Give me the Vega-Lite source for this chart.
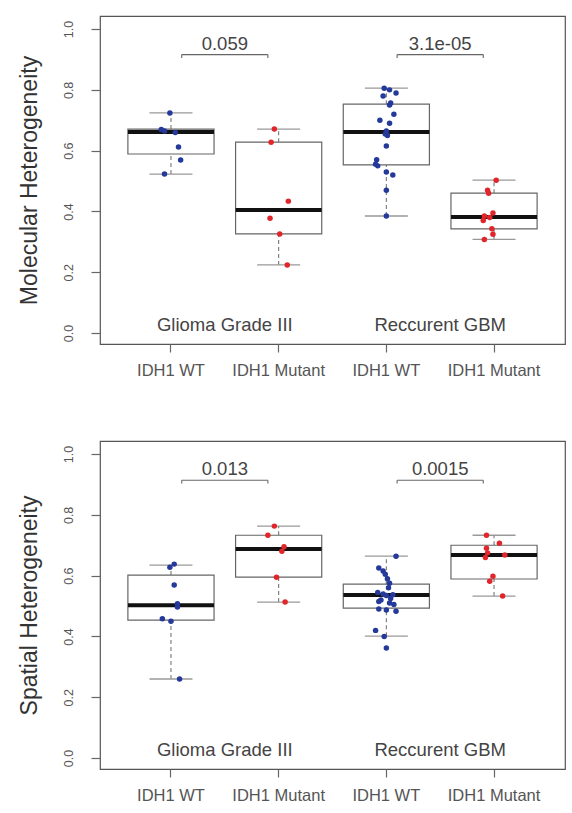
{
 "$schema": "https://vega.github.io/schema/vega-lite/v6.json",
 "padding": {"left": 17, "top": 15, "right": 5, "bottom": 5},
 "background": "white",
 "spacing": 97,
 "bounds": "flush",
 "config": {
  "font": "Liberation Sans",
  "view": {"stroke": "#555", "strokeWidth": 1.2},
  "axis": {"domain": false, "grid": false, "labelColor": "#555", "titleColor": "#333", "tickColor": "#666", "titleFontWeight": "normal", "tickWidth": 1.2}
 },
 "datasets": {
  "pts": [
   {"panel":"M","group":"G_WT","value":0.724,"jitter":-0.01},
   {"panel":"M","group":"G_WT","value":0.670,"jitter":-0.09},
   {"panel":"M","group":"G_WT","value":0.665,"jitter":-0.06},
   {"panel":"M","group":"G_WT","value":0.660,"jitter":0.04},
   {"panel":"M","group":"G_WT","value":0.612,"jitter":0.07},
   {"panel":"M","group":"G_WT","value":0.569,"jitter":0.09},
   {"panel":"M","group":"G_WT","value":0.523,"jitter":-0.06},
   {"panel":"M","group":"G_MUT","value":0.671,"jitter":-0.04},
   {"panel":"M","group":"G_MUT","value":0.628,"jitter":-0.07},
   {"panel":"M","group":"G_MUT","value":0.434,"jitter":0.09},
   {"panel":"M","group":"G_MUT","value":0.378,"jitter":-0.08},
   {"panel":"M","group":"G_MUT","value":0.326,"jitter":0.01},
   {"panel":"M","group":"G_MUT","value":0.224,"jitter":0.08},
   {"panel":"M","group":"R_WT","value":0.385,"jitter":0.0},
   {"panel":"M","group":"R_WT","value":0.47,"jitter":0.0},
   {"panel":"M","group":"R_WT","value":0.52,"jitter":0.06},
   {"panel":"M","group":"R_WT","value":0.53,"jitter":0.0},
   {"panel":"M","group":"R_WT","value":0.55,"jitter":-0.08},
   {"panel":"M","group":"R_WT","value":0.555,"jitter":-0.1},
   {"panel":"M","group":"R_WT","value":0.57,"jitter":-0.09},
   {"panel":"M","group":"R_WT","value":0.615,"jitter":0.0},
   {"panel":"M","group":"R_WT","value":0.65,"jitter":0.01},
   {"panel":"M","group":"R_WT","value":0.655,"jitter":-0.01},
   {"panel":"M","group":"R_WT","value":0.665,"jitter":0.0},
   {"panel":"M","group":"R_WT","value":0.69,"jitter":0.03},
   {"panel":"M","group":"R_WT","value":0.70,"jitter":-0.06},
   {"panel":"M","group":"R_WT","value":0.72,"jitter":0.07},
   {"panel":"M","group":"R_WT","value":0.75,"jitter":0.03},
   {"panel":"M","group":"R_WT","value":0.757,"jitter":0.04},
   {"panel":"M","group":"R_WT","value":0.78,"jitter":-0.03},
   {"panel":"M","group":"R_WT","value":0.79,"jitter":0.09},
   {"panel":"M","group":"R_WT","value":0.80,"jitter":0.03},
   {"panel":"M","group":"R_WT","value":0.805,"jitter":-0.02},
   {"panel":"M","group":"R_MUT","value":0.503,"jitter":0.02},
   {"panel":"M","group":"R_MUT","value":0.47,"jitter":-0.06},
   {"panel":"M","group":"R_MUT","value":0.46,"jitter":-0.05},
   {"panel":"M","group":"R_MUT","value":0.395,"jitter":-0.01},
   {"panel":"M","group":"R_MUT","value":0.385,"jitter":-0.09},
   {"panel":"M","group":"R_MUT","value":0.38,"jitter":-0.04},
   {"panel":"M","group":"R_MUT","value":0.37,"jitter":-0.1},
   {"panel":"M","group":"R_MUT","value":0.343,"jitter":-0.02},
   {"panel":"M","group":"R_MUT","value":0.325,"jitter":-0.01},
   {"panel":"M","group":"R_MUT","value":0.308,"jitter":-0.09},
   {"panel":"S","group":"G_WT","value":0.638,"jitter":0.03},
   {"panel":"S","group":"G_WT","value":0.628,"jitter":-0.01},
   {"panel":"S","group":"G_WT","value":0.569,"jitter":0.03},
   {"panel":"S","group":"G_WT","value":0.508,"jitter":0.06},
   {"panel":"S","group":"G_WT","value":0.497,"jitter":0.06},
   {"panel":"S","group":"G_WT","value":0.458,"jitter":-0.08},
   {"panel":"S","group":"G_WT","value":0.45,"jitter":0.0},
   {"panel":"S","group":"G_WT","value":0.26,"jitter":0.08},
   {"panel":"S","group":"G_MUT","value":0.763,"jitter":-0.04},
   {"panel":"S","group":"G_MUT","value":0.733,"jitter":-0.1},
   {"panel":"S","group":"G_MUT","value":0.695,"jitter":0.05},
   {"panel":"S","group":"G_MUT","value":0.68,"jitter":0.03},
   {"panel":"S","group":"G_MUT","value":0.595,"jitter":-0.02},
   {"panel":"S","group":"G_MUT","value":0.513,"jitter":0.06},
   {"panel":"S","group":"R_WT","value":0.664,"jitter":0.09},
   {"panel":"S","group":"R_WT","value":0.625,"jitter":-0.07},
   {"panel":"S","group":"R_WT","value":0.615,"jitter":-0.03},
   {"panel":"S","group":"R_WT","value":0.605,"jitter":-0.01},
   {"panel":"S","group":"R_WT","value":0.59,"jitter":0.01},
   {"panel":"S","group":"R_WT","value":0.575,"jitter":0.03},
   {"panel":"S","group":"R_WT","value":0.56,"jitter":0.02},
   {"panel":"S","group":"R_WT","value":0.545,"jitter":-0.08},
   {"panel":"S","group":"R_WT","value":0.54,"jitter":-0.03},
   {"panel":"S","group":"R_WT","value":0.537,"jitter":0.06},
   {"panel":"S","group":"R_WT","value":0.535,"jitter":0.0},
   {"panel":"S","group":"R_WT","value":0.525,"jitter":0.04},
   {"panel":"S","group":"R_WT","value":0.52,"jitter":-0.05},
   {"panel":"S","group":"R_WT","value":0.515,"jitter":-0.07},
   {"panel":"S","group":"R_WT","value":0.51,"jitter":0.03},
   {"panel":"S","group":"R_WT","value":0.505,"jitter":0.07},
   {"panel":"S","group":"R_WT","value":0.49,"jitter":-0.07},
   {"panel":"S","group":"R_WT","value":0.487,"jitter":0.0},
   {"panel":"S","group":"R_WT","value":0.483,"jitter":0.09},
   {"panel":"S","group":"R_WT","value":0.42,"jitter":-0.1},
   {"panel":"S","group":"R_WT","value":0.40,"jitter":-0.02},
   {"panel":"S","group":"R_WT","value":0.362,"jitter":0.0},
   {"panel":"S","group":"R_MUT","value":0.733,"jitter":-0.07},
   {"panel":"S","group":"R_MUT","value":0.707,"jitter":0.05},
   {"panel":"S","group":"R_MUT","value":0.69,"jitter":-0.07},
   {"panel":"S","group":"R_MUT","value":0.675,"jitter":-0.06},
   {"panel":"S","group":"R_MUT","value":0.668,"jitter":0.1},
   {"panel":"S","group":"R_MUT","value":0.66,"jitter":-0.08},
   {"panel":"S","group":"R_MUT","value":0.598,"jitter":-0.01},
   {"panel":"S","group":"R_MUT","value":0.582,"jitter":-0.04},
   {"panel":"S","group":"R_MUT","value":0.533,"jitter":0.08}
  ],
  "boxes": [
   {"panel":"M","group":"G_WT","lo":0.523,"q1":0.589,"med":0.661,"q3":0.671,"hi":0.724},
   {"panel":"M","group":"G_MUT","lo":0.224,"q1":0.326,"med":0.405,"q3":0.628,"hi":0.671},
   {"panel":"M","group":"R_WT","lo":0.385,"q1":0.553,"med":0.661,"q3":0.753,"hi":0.806},
   {"panel":"M","group":"R_MUT","lo":0.308,"q1":0.343,"med":0.382,"q3":0.46,"hi":0.503},
   {"panel":"S","group":"G_WT","lo":0.26,"q1":0.454,"med":0.503,"q3":0.602,"hi":0.635},
   {"panel":"S","group":"G_MUT","lo":0.513,"q1":0.595,"med":0.688,"q3":0.733,"hi":0.763},
   {"panel":"S","group":"R_WT","lo":0.401,"q1":0.493,"med":0.536,"q3":0.572,"hi":0.664},
   {"panel":"S","group":"R_MUT","lo":0.533,"q1":0.589,"med":0.668,"q3":0.70,"hi":0.733}
  ],
  "pvals": [
   {"panel":"M","left":"G_WT","right":"G_MUT","label":"0.059"},
   {"panel":"M","left":"R_WT","right":"R_MUT","label":"3.1e-05"},
   {"panel":"S","left":"G_WT","right":"G_MUT","label":"0.013"},
   {"panel":"S","left":"R_WT","right":"R_MUT","label":"0.0015"}
  ],
  "strips": [
   {"panel":"M","group":"G_WT","label":"Glioma Grade III"},
   {"panel":"M","group":"R_WT","label":"Reccurent GBM"},
   {"panel":"S","group":"G_WT","label":"Glioma Grade III"},
   {"panel":"S","group":"R_WT","label":"Reccurent GBM"}
  ]
 },
 "vconcat": [
  {
   "width": 465, "height": 328,
   "layer": [
    {"data": {"name": "boxes"}, "transform": [{"filter": "datum.panel === 'M'"}],
     "mark": {"type": "rule", "color": "#777", "strokeDash": [4, 3], "strokeWidth": 1.1},
     "encoding": {
      "x": {"field": "group", "type": "nominal", "scale": {"type": "band", "domain": ["G_WT","G_MUT","R_WT","R_MUT"], "paddingInner": 0, "paddingOuter": 0.159},
            "axis": {"title": null, "labelExpr": "indexof(datum.value, 'WT') >= 0 ? 'IDH1 WT' : 'IDH1 Mutant'", "labelAngle": 0, "tickSize": 8, "labelPadding": 10, "labelFontSize": 16.5}},
      "y": {"field": "q3", "type": "quantitative", "scale": {"domain": [-0.036, 1.043], "nice": false, "zero": false},
            "axis": {"title": "Molecular Heterogeneity", "values": [0, 0.2, 0.4, 0.6, 0.8, 1], "format": ".1f", "labelAngle": 270, "labelAlign": "center", "labelBaseline": "bottom", "tickSize": 9, "labelPadding": 16, "titlePadding": 21, "labelFontSize": 12.5, "titleFontSize": 23}},
      "y2": {"field": "hi"}
     }},
    {"data": {"name": "boxes"}, "transform": [{"filter": "datum.panel === 'M'"}],
     "mark": {"type": "rule", "color": "#777", "strokeDash": [4, 3], "strokeWidth": 1.1},
     "encoding": {"x": {"field": "group", "type": "nominal"}, "y": {"field": "lo", "type": "quantitative"}, "y2": {"field": "q1"}}},
    {"data": {"name": "boxes"}, "transform": [{"filter": "datum.panel === 'M'"}],
     "mark": {"type": "tick", "color": "#999", "size": 43, "thickness": 1.3, "opacity": 1},
     "encoding": {"x": {"field": "group", "type": "nominal"}, "y": {"field": "hi", "type": "quantitative"}}},
    {"data": {"name": "boxes"}, "transform": [{"filter": "datum.panel === 'M'"}],
     "mark": {"type": "tick", "color": "#999", "size": 43, "thickness": 1.3, "opacity": 1},
     "encoding": {"x": {"field": "group", "type": "nominal"}, "y": {"field": "lo", "type": "quantitative"}}},
    {"data": {"name": "boxes"}, "transform": [{"filter": "datum.panel === 'M'"}],
     "mark": {"type": "rect", "fill": "white", "stroke": "#666", "strokeWidth": 1.2},
     "encoding": {"x": {"field": "group", "type": "nominal", "bandPosition": 0.1}, "x2": {"field": "group", "bandPosition": 0.9}, "y": {"field": "q1", "type": "quantitative"}, "y2": {"field": "q3"}}},
    {"data": {"name": "boxes"}, "transform": [{"filter": "datum.panel === 'M'"}],
     "mark": {"type": "tick", "color": "#111", "size": 86, "thickness": 4, "opacity": 1},
     "encoding": {"x": {"field": "group", "type": "nominal"}, "y": {"field": "med", "type": "quantitative"}}},
    {"data": {"name": "pts"}, "transform": [{"filter": "datum.panel === 'M'"}],
     "mark": {"type": "circle", "size": 30, "opacity": 1},
     "encoding": {"x": {"field": "group", "type": "nominal"},
      "xOffset": {"field": "jitter", "type": "quantitative", "scale": {"domain": [-0.5, 0.5]}},
      "y": {"field": "value", "type": "quantitative"},
      "color": {"field": "group", "type": "nominal", "scale": {"domain": ["G_WT","G_MUT","R_WT","R_MUT"], "range": ["#24399a","#e0262b","#24399a","#e0262b"]}, "legend": null}}},
    {"mark": {"type": "rule", "color": "#555", "strokeWidth": 1.2},
     "encoding": {"y": {"datum": 0.105, "type": "quantitative"}}},
    {"mark": {"type": "rule", "color": "#555", "strokeWidth": 1.2},
     "encoding": {"x": {"datum": "G_MUT", "type": "nominal", "bandPosition": 1}}},
    {"data": {"name": "pvals"}, "transform": [{"filter": "datum.panel === 'M'"}],
     "mark": {"type": "rule", "color": "#666", "strokeWidth": 1.1},
     "encoding": {"x": {"field": "left", "type": "nominal", "bandPosition": 0.6}, "x2": {"field": "right", "bandPosition": 0.4}, "y": {"datum": 0.916, "type": "quantitative"}}},
    {"data": {"name": "pvals"}, "transform": [{"filter": "datum.panel === 'M'"}],
     "mark": {"type": "rule", "color": "#666", "strokeWidth": 1.1},
     "encoding": {"x": {"field": "left", "type": "nominal", "bandPosition": 0.6}, "y": {"datum": 0.916, "type": "quantitative"}, "y2": {"datum": 0.905}}},
    {"data": {"name": "pvals"}, "transform": [{"filter": "datum.panel === 'M'"}],
     "mark": {"type": "rule", "color": "#666", "strokeWidth": 1.1},
     "encoding": {"x": {"field": "right", "type": "nominal", "bandPosition": 0.4}, "y": {"datum": 0.916, "type": "quantitative"}, "y2": {"datum": 0.905}}},
    {"data": {"name": "pvals"}, "transform": [{"filter": "datum.panel === 'M'"}],
     "mark": {"type": "text", "fontSize": 18.5, "color": "#444", "baseline": "middle"},
     "encoding": {"x": {"field": "left", "type": "nominal", "bandPosition": 1}, "y": {"datum": 0.952, "type": "quantitative"}, "text": {"field": "label"}}},
    {"data": {"name": "strips"}, "transform": [{"filter": "datum.panel === 'M'"}],
     "mark": {"type": "text", "fontSize": 18.5, "color": "#444", "baseline": "middle"},
     "encoding": {"x": {"field": "group", "type": "nominal", "bandPosition": 1}, "y": {"datum": 0.025, "type": "quantitative"}, "text": {"field": "label"}}}
   ]
  },
  {
   "width": 465, "height": 328,
   "layer": [
    {"data": {"name": "boxes"}, "transform": [{"filter": "datum.panel === 'S'"}],
     "mark": {"type": "rule", "color": "#777", "strokeDash": [4, 3], "strokeWidth": 1.1},
     "encoding": {
      "x": {"field": "group", "type": "nominal", "scale": {"type": "band", "domain": ["G_WT","G_MUT","R_WT","R_MUT"], "paddingInner": 0, "paddingOuter": 0.159},
            "axis": {"title": null, "labelExpr": "indexof(datum.value, 'WT') >= 0 ? 'IDH1 WT' : 'IDH1 Mutant'", "labelAngle": 0, "tickSize": 8, "labelPadding": 10, "labelFontSize": 16.5}},
      "y": {"field": "q3", "type": "quantitative", "scale": {"domain": [-0.036, 1.043], "nice": false, "zero": false},
            "axis": {"title": "Spatial Heterogeneity", "values": [0, 0.2, 0.4, 0.6, 0.8, 1], "format": ".1f", "labelAngle": 270, "labelAlign": "center", "labelBaseline": "bottom", "tickSize": 9, "labelPadding": 16, "titlePadding": 21, "labelFontSize": 12.5, "titleFontSize": 23}},
      "y2": {"field": "hi"}
     }},
    {"data": {"name": "boxes"}, "transform": [{"filter": "datum.panel === 'S'"}],
     "mark": {"type": "rule", "color": "#777", "strokeDash": [4, 3], "strokeWidth": 1.1},
     "encoding": {"x": {"field": "group", "type": "nominal"}, "y": {"field": "lo", "type": "quantitative"}, "y2": {"field": "q1"}}},
    {"data": {"name": "boxes"}, "transform": [{"filter": "datum.panel === 'S'"}],
     "mark": {"type": "tick", "color": "#999", "size": 43, "thickness": 1.3, "opacity": 1},
     "encoding": {"x": {"field": "group", "type": "nominal"}, "y": {"field": "hi", "type": "quantitative"}}},
    {"data": {"name": "boxes"}, "transform": [{"filter": "datum.panel === 'S'"}],
     "mark": {"type": "tick", "color": "#999", "size": 43, "thickness": 1.3, "opacity": 1},
     "encoding": {"x": {"field": "group", "type": "nominal"}, "y": {"field": "lo", "type": "quantitative"}}},
    {"data": {"name": "boxes"}, "transform": [{"filter": "datum.panel === 'S'"}],
     "mark": {"type": "rect", "fill": "white", "stroke": "#666", "strokeWidth": 1.2},
     "encoding": {"x": {"field": "group", "type": "nominal", "bandPosition": 0.1}, "x2": {"field": "group", "bandPosition": 0.9}, "y": {"field": "q1", "type": "quantitative"}, "y2": {"field": "q3"}}},
    {"data": {"name": "boxes"}, "transform": [{"filter": "datum.panel === 'S'"}],
     "mark": {"type": "tick", "color": "#111", "size": 86, "thickness": 4, "opacity": 1},
     "encoding": {"x": {"field": "group", "type": "nominal"}, "y": {"field": "med", "type": "quantitative"}}},
    {"data": {"name": "pts"}, "transform": [{"filter": "datum.panel === 'S'"}],
     "mark": {"type": "circle", "size": 30, "opacity": 1},
     "encoding": {"x": {"field": "group", "type": "nominal"},
      "xOffset": {"field": "jitter", "type": "quantitative", "scale": {"domain": [-0.5, 0.5]}},
      "y": {"field": "value", "type": "quantitative"},
      "color": {"field": "group", "type": "nominal", "scale": {"domain": ["G_WT","G_MUT","R_WT","R_MUT"], "range": ["#24399a","#e0262b","#24399a","#e0262b"]}, "legend": null}}},
    {"mark": {"type": "rule", "color": "#555", "strokeWidth": 1.2},
     "encoding": {"y": {"datum": 0.105, "type": "quantitative"}}},
    {"mark": {"type": "rule", "color": "#555", "strokeWidth": 1.2},
     "encoding": {"x": {"datum": "G_MUT", "type": "nominal", "bandPosition": 1}}},
    {"data": {"name": "pvals"}, "transform": [{"filter": "datum.panel === 'S'"}],
     "mark": {"type": "rule", "color": "#666", "strokeWidth": 1.1},
     "encoding": {"x": {"field": "left", "type": "nominal", "bandPosition": 0.6}, "x2": {"field": "right", "bandPosition": 0.4}, "y": {"datum": 0.914, "type": "quantitative"}}},
    {"data": {"name": "pvals"}, "transform": [{"filter": "datum.panel === 'S'"}],
     "mark": {"type": "rule", "color": "#666", "strokeWidth": 1.1},
     "encoding": {"x": {"field": "left", "type": "nominal", "bandPosition": 0.6}, "y": {"datum": 0.914, "type": "quantitative"}, "y2": {"datum": 0.903}}},
    {"data": {"name": "pvals"}, "transform": [{"filter": "datum.panel === 'S'"}],
     "mark": {"type": "rule", "color": "#666", "strokeWidth": 1.1},
     "encoding": {"x": {"field": "right", "type": "nominal", "bandPosition": 0.4}, "y": {"datum": 0.914, "type": "quantitative"}, "y2": {"datum": 0.903}}},
    {"data": {"name": "pvals"}, "transform": [{"filter": "datum.panel === 'S'"}],
     "mark": {"type": "text", "fontSize": 18.5, "color": "#444", "baseline": "middle"},
     "encoding": {"x": {"field": "left", "type": "nominal", "bandPosition": 1}, "y": {"datum": 0.952, "type": "quantitative"}, "text": {"field": "label"}}},
    {"data": {"name": "strips"}, "transform": [{"filter": "datum.panel === 'S'"}],
     "mark": {"type": "text", "fontSize": 18.5, "color": "#444", "baseline": "middle"},
     "encoding": {"x": {"field": "group", "type": "nominal", "bandPosition": 1}, "y": {"datum": 0.025, "type": "quantitative"}, "text": {"field": "label"}}}
   ]
  }
 ]
}
